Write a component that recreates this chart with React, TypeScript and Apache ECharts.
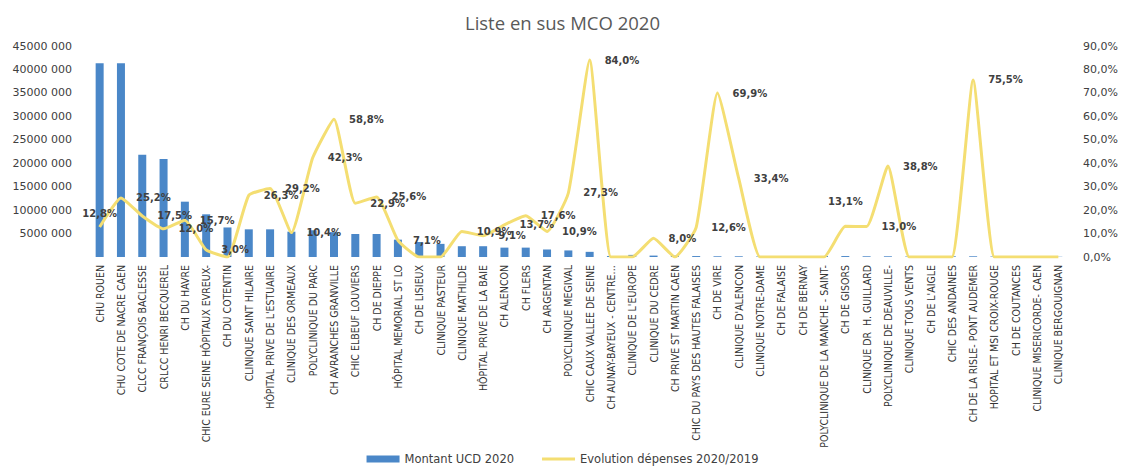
import React, { useEffect, useRef } from "react";
import * as echarts from "echarts";

const title = "Liste en sus MCO 2020";

const categories = [
  "CHU ROUEN",
  "CHU COTE DE NACRE CAEN",
  "CLCC FRANÇOIS BACLESSE",
  "CRLCC HENRI BECQUEREL",
  "CH DU HAVRE",
  "CHIC EURE SEINE HÔPITAUX EVREUX-",
  "CH DU COTENTIN",
  "CLINIQUE SAINT HILAIRE",
  "HÔPITAL PRIVE DE L'ESTUAIRE",
  "CLINIQUE DES ORMEAUX",
  "POLYCLINIQUE DU PARC",
  "CH AVRANCHES GRANVILLE",
  "CHIC ELBEUF LOUVIERS",
  "CH DE DIEPPE",
  "HÔPITAL MEMORIAL ST LO",
  "CH DE LISIEUX",
  "CLINIQUE PASTEUR",
  "CLINIQUE MATHILDE",
  "HÔPITAL PRIVE DE LA BAIE",
  "CH ALENCON",
  "CH FLERS",
  "CH ARGENTAN",
  "POLYCLINIQUE MEGIVAL",
  "CHIC CAUX VALLEE DE SEINE",
  "CH AUNAY-BAYEUX - CENTRE…",
  "CLINIQUE DE L'EUROPE",
  "CLINIQUE DU CEDRE",
  "CH PRIVE ST MARTIN CAEN",
  "CHIC DU PAYS DES HAUTES FALAISES",
  "CH DE VIRE",
  "CLINIQUE D'ALENCON",
  "CLINIQUE NOTRE-DAME",
  "CH DE FALAISE",
  "CH DE BERNAY",
  "POLYCLINIQUE DE LA MANCHE - SAINT-",
  "CH DE GISORS",
  "CLINIQUE DR  H. GUILLARD",
  "POLYCLINIQUE DE DEAUVILLE-",
  "CLINIQUE TOUS VENTS",
  "CH DE L'AIGLE",
  "CHIC DES ANDAINES",
  "CH DE LA RISLE- PONT AUDEMER",
  "HOPITAL ET MSI CROIX-ROUGE",
  "CH DE COUTANCES",
  "CLINIQUE MISERICORDE- CAEN",
  "CLINIQUE BERGOUIGNAN",
];

const montantUCD2020 = [
  41300000, 41300000, 21800000, 20900000, 11800000, 9100000, 6300000, 5900000,
  5900000, 5400000, 5700000, 5300000, 4900000, 4900000, 3700000, 3200000,
  2800000, 2300000, 2300000, 2000000, 2000000, 1600000, 1400000, 1100000,
  200000, 450000, 300000, 300000, 200000, 150000, 150000, 100000, 200000,
  100000, 200000, 200000, 150000, 150000, 100000, 100000, 150000, 150000,
  100000, 200000, 50000, 50000,
];

const evolution20202019 = [
  12.8, 25.2, 17.5, 12.0, 15.7, 3.0, 0, 26.3, 29.2, 10.4, 42.3, 58.8, 22.9,
  25.6, 7.1, 0, 0, 10.9, 9.1, 13.7, 17.6, 10.9, 27.3, 84.0, 0, 0, 8.0, 0, 12.6,
  69.9, 33.4, 0, 0, 0, 0, 13.1, 13.0, 38.8, 0, 0, 0, 75.5, 0, 0, 0, 0,
];

const leftTicks = { min: 0, max: 45000000, interval: 5000000 };
const rightTicks = { min: 0, max: 90, interval: 10 };

const seriesNames = ["Montant UCD 2020", "Evolution dépenses 2020/2019"];

const labelTopIdx = [0, 35];

export default function App() {
  const ref = useRef<HTMLDivElement>(null);
  useEffect(() => {
    if (!ref.current) return;
    const chart = echarts.init(ref.current, undefined, { renderer: "svg" });
    const fmtPct = (v: number) => v.toFixed(1).replace(".", ",") + "%";
    const lineData = evolution20202019.map((v, i) => {
      const item: any = { value: v };
      if (labelTopIdx.indexOf(i) >= 0) {
        item.label = { position: "top", distance: i === 0 ? 8 : 20 };
      }
      return item;
    });
    chart.setOption({
      animation: false,
      textStyle: { fontFamily: "DejaVu Sans, Liberation Sans, sans-serif" },
      title: {
        text: title,
        left: "center",
        top: 8,
        textStyle: {
          fontSize: 18.5,
          fontWeight: "normal",
          color: "#595959",
          fontFamily: "Open Sans, Liberation Sans, sans-serif",
        },
      },
      legend: {
        bottom: 2,
        left: "center",
        itemWidth: 33,
        itemHeight: 7,
        itemGap: 28,
        textStyle: { fontSize: 11.5, color: "#404040", fontFamily: "DejaVu Sans, sans-serif" },
        data: [
          { name: seriesNames[0], icon: "rect" },
          { name: seriesNames[1], icon: "path://M0,0 L33,0 L33,3 L0,3 Z", itemStyle: { color: "#F4DE72" } },
        ],
      },
      grid: { left: 89, right: 56, top: 46, bottom: 215, containLabel: false },
      xAxis: {
        type: "category",
        data: categories,
        axisLine: { show: false },
        axisTick: { show: false },
        axisLabel: {
          rotate: 90,
          interval: 0,
          margin: 8,
          fontSize: 10.5,
          color: "#333333",
          fontFamily: "Liberation Sans Narrow, DejaVu Sans Condensed, Arial Narrow, Liberation Sans, sans-serif",
        },
      },
      yAxis: [
        {
          type: "value",
          min: leftTicks.min,
          max: leftTicks.max,
          interval: leftTicks.interval,
          splitLine: { show: false },
          axisLine: { show: false },
          axisTick: { show: false },
          axisLabel: {
            margin: 17,
            fontSize: 11,
            color: "#404040",
            fontFamily: "DejaVu Sans, sans-serif",
            formatter: (v: number) =>
              v === 0 ? "" : Math.floor(v / 1000) + " 000",
          },
        },
        {
          type: "value",
          min: rightTicks.min,
          max: rightTicks.max,
          interval: rightTicks.interval,
          splitLine: { show: false },
          axisLine: { show: false },
          axisTick: { show: false },
          axisLabel: {
            margin: 14,
            fontSize: 11,
            color: "#404040",
            fontFamily: "DejaVu Sans, sans-serif",
            formatter: (v: number) => fmtPct(v),
          },
        },
      ],
      series: [
        {
          name: seriesNames[0],
          type: "bar",
          data: montantUCD2020,
          barWidth: 8,
          itemStyle: { color: "#4A87C8" },
        },
        {
          name: seriesNames[1],
          type: "line",
          yAxisIndex: 1,
          data: lineData,
          smooth: 0.15,
          symbol: "circle",
          symbolSize: 0.01,
          showSymbol: true,
          lineStyle: { color: "#F4DE72", width: 3 },
          itemStyle: { color: "#F4DE72" },
          label: {
            show: true,
            position: "right",
            distance: 15,
            fontSize: 10,
            fontWeight: "bold",
            color: "#404040",
            fontFamily: "DejaVu Sans, sans-serif",
            formatter: (p: any) => (p.value === 0 ? "" : fmtPct(p.value)),
          },
        },
      ],
    });
    return () => chart.dispose();
  }, []);
  return (
    <div
      ref={ref}
      style={{ position: "fixed", left: 0, top: 0, width: 1125, height: 472, background: "#ffffff" }}
    />
  );
}
